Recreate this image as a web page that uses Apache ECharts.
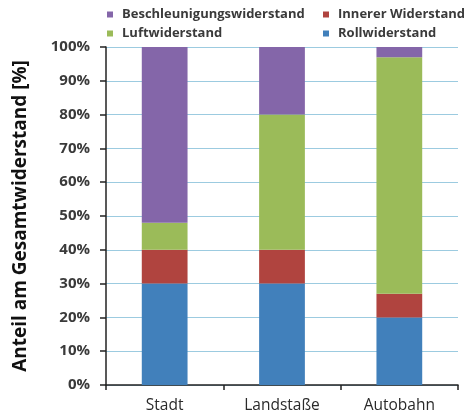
<!DOCTYPE html>
<html>
<head>
<meta charset="utf-8">
<script src="https://cdn.jsdelivr.net/npm/echarts@6/dist/echarts.min.js"></script>
<style>
html,body{margin:0;padding:0;background:#fff;}
#chart{width:467px;height:416px;}
</style>
</head>
<body>
<div id="chart"></div>
<script>
// Categories and stacked shares (percent of total resistance)
const categories = ['Stadt', 'Landstaße', 'Autobahn'];
const rollwiderstand = [30, 30, 20];
const innererWiderstand = [10, 10, 7];
const luftwiderstand = [8, 40, 70];
const beschleunigungswiderstand = [52, 20, 3];
const yTicks = [0, 10, 20, 30, 40, 50, 60, 70, 80, 90, 100];

const colors = {
  roll: '#4180bb',
  inner: '#b0443f',
  luft: '#9bbb59',
  besch: '#8466a9'
};

const font = '"Open Sans", "DejaVu Sans", sans-serif';

function legendAt(name, left, top) {
  return {
    data: [name],
    left: left,
    top: top,
    icon: 'rect',
    itemWidth: 6,
    itemHeight: 6,
    itemGap: 8,
    padding: 0,
    textStyle: { fontFamily: font, fontSize: 13, fontWeight: 'bold', color: '#3a3a3a', padding: [0, 0, 0, 4] },
    selectedMode: false
  };
}

const chart = echarts.init(document.getElementById('chart'), null, { renderer: 'canvas' });

function bar(name, data, color) {
  return {
    name: name,
    type: 'bar',
    stack: 'total',
    data: data,
    barWidth: '39%',
    itemStyle: { color: color },
    emphasis: { disabled: true }
  };
}

chart.setOption({
  animation: false,
  backgroundColor: '#ffffff',
  legend: [
    legendAt('Beschleunigungswiderstand', 107, 8),
    legendAt('Innerer Widerstand', 323, 8),
    legendAt('Luftwiderstand', 107, 27),
    legendAt('Rollwiderstand', 323, 27)
  ],
  grid: { left: 106, right: 9, top: 47, bottom: 31 },
  xAxis: {
    type: 'category',
    data: categories,
    axisLine: { show: true, lineStyle: { color: '#222', width: 1.5 } },
    axisTick: { show: true, alignWithLabel: false, length: 5, lineStyle: { color: '#222', width: 1.5 } },
    axisLabel: { fontFamily: font, fontSize: 15.5, color: '#2a2a2a', margin: 13 }
  },
  yAxis: {
    type: 'value',
    min: yTicks[0],
    max: yTicks[yTicks.length - 1],
    interval: 10,
    name: 'Anteil am Gesamtwiderstand [%]',
    nameLocation: 'middle',
    nameGap: 76,
    nameTextStyle: { fontFamily: font, fontSize: 19, fontWeight: 'bold', color: '#111' },
    axisLine: { show: true, lineStyle: { color: '#222', width: 1.5 } },
    axisTick: { show: true, length: 6, lineStyle: { color: '#222', width: 1.5 } },
    axisLabel: {
      fontFamily: font, fontSize: 15, fontWeight: 'bold', color: '#3a3a3a', margin: 16,
      formatter: v => v + '%'
    },
    splitLine: { show: true, lineStyle: { color: '#9ccbe0', width: 1.2 } }
  },
  series: [
    bar('Rollwiderstand', rollwiderstand, colors.roll),
    bar('Innerer Widerstand', innererWiderstand, colors.inner),
    bar('Luftwiderstand', luftwiderstand, colors.luft),
    bar('Beschleunigungswiderstand', beschleunigungswiderstand, colors.besch)
  ]
});
</script>
</body>
</html>
